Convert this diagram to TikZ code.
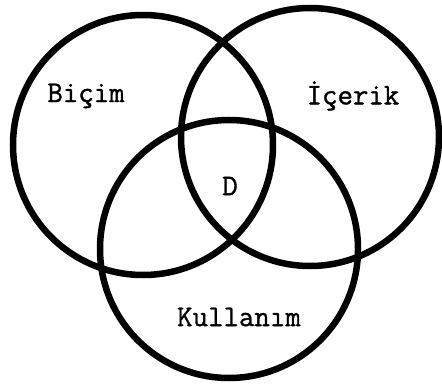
\documentclass[tikz,border=0pt]{standalone}
\usepackage{fontspec}
\newfontfamily\typew{Latin Modern Mono}[FakeBold=1.2]
\begin{document}
\begin{tikzpicture}[x=1pt,y=-1pt,
  setring/.style={circle,draw=black,line width=6.5pt,minimum size=260pt,inner sep=0pt},
  setlabel/.style={font=\typew\fontsize{30}{34}\selectfont,inner sep=0pt}]
\useasboundingbox (0,0) rectangle (442,385);
\node[setring] (bicim) at (143,145) {};
\node[setring,minimum size=258pt] (icerik) at (310,137) {};
\node[setring,minimum size=258pt] (kullanim) at (229,249) {};
\node[setlabel] (lb) at (86,96) {Biçim};
\node[setlabel] (li) at (353,96) {İçerik};
\node[setlabel] (ld) at (230,186) {D};
\node[setlabel] (lk) at (239,317) {Kullanım};
\end{tikzpicture}
\end{document}
